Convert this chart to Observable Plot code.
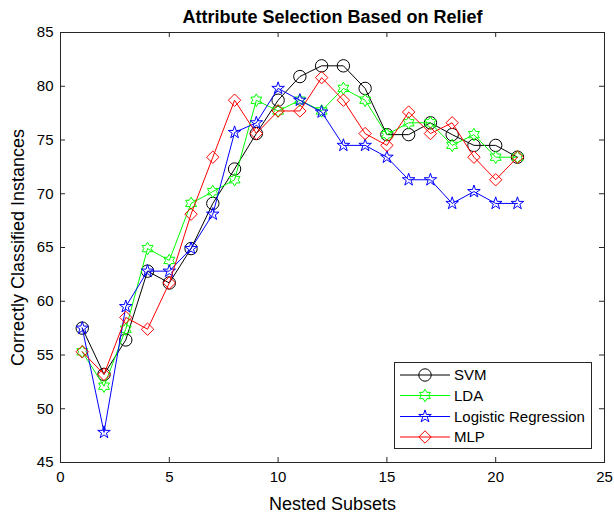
<!DOCTYPE html>
<html>
<head>
<meta charset="utf-8">
<script src="https://cdn.jsdelivr.net/npm/d3@7"></script>
<script src="https://cdn.jsdelivr.net/npm/@observablehq/plot@0.6"></script>
<style>
  html, body { margin: 0; padding: 0; background: #fff; }
  #chart { position: relative; width: 614px; height: 519px; }
</style>
</head>
<body>
<div id="chart"></div>
<script>
// ---- data ----
const subsets = [1, 2, 3, 4, 5, 6, 7, 8, 9, 10, 11, 12, 13, 14, 15, 16, 17, 18, 19, 20, 21];
const svm = [57.5, 53.2, 56.4, 62.8, 61.7, 64.9, 69.1, 72.3, 75.6, 78.7, 80.9, 81.9, 81.9, 79.8, 75.5, 75.5, 76.6, 75.5, 74.5, 74.5, 73.4];
const lda = [55.3, 52.1, 57.4, 64.9, 63.8, 69.1, 70.2, 71.3, 78.7, 77.7, 78.7, 77.7, 79.8, 78.7, 75.5, 76.6, 76.6, 74.5, 75.5, 73.4, 73.4];
const logisticRegression = [57.5, 47.8, 59.5, 62.8, 62.8, 64.9, 68.1, 75.7, 76.6, 79.8, 78.7, 77.6, 74.5, 74.5, 73.4, 71.3, 71.3, 69.1, 70.2, 69.1, 69.1];
const mlp = [55.3, 53.2, 58.5, 57.4, 61.7, 68.1, 73.4, 78.7, 75.6, 77.7, 77.7, 80.8, 78.7, 75.6, 74.5, 77.6, 75.6, 76.6, 73.4, 71.3, 73.4];
const seriesNames = ["SVM", "LDA", "Logistic Regression", "MLP"];
const xTicks = [0, 5, 10, 15, 20, 25];
const yTicks = [45, 50, 55, 60, 65, 70, 75, 80, 85];
const titleText = "Attribute Selection Based on Relief";
const xLabel = "Nested Subsets";
const yLabel = "Correctly Classified Instances";

// ---- symbols ----
function shape(fn) {
  return { draw(ctx, size) { const R = Math.sqrt(size / Math.PI); fn(ctx, R); } };
}
function starPoly(c, R, n, ratio) {
  for (let i = 0; i < 2 * n; i++) {
    const a = -Math.PI / 2 + i * Math.PI / n;
    const r = i % 2 ? R * ratio : R;
    const x = r * Math.cos(a), y = r * Math.sin(a);
    if (i) c.lineTo(x, y); else c.moveTo(x, y);
  }
  c.closePath();
}
const circleSym = shape((c, R) => { c.moveTo(R, 0); c.arc(0, 0, R, 0, 2 * Math.PI); c.closePath(); });
const hexagramSym = shape((c, R) => starPoly(c, R, 6, 1 / Math.sqrt(3)));
const pentagramSym = shape((c, R) => starPoly(c, R, 5, 0.382));
const diamondSym = shape((c, R) => { c.moveTo(0, -R); c.lineTo(R, 0); c.lineTo(0, R); c.lineTo(-R, 0); c.closePath(); });

const series = [
  { name: seriesNames[0], values: svm, color: "#000000", symbol: circleSym, r: 6.2 },
  { name: seriesNames[1], values: lda, color: "#00ff00", symbol: hexagramSym, r: 6.3 },
  { name: seriesNames[2], values: logisticRegression, color: "#0000ff", symbol: pentagramSym, r: 6.6 },
  { name: seriesNames[3], values: mlp, color: "#ff0000", symbol: diamondSym, r: 6.2 }
];

// ---- layout ----
const W = 614, H = 519;
const mL = 60, mR = 10, mT = 32, mB = 57;
const innerW = W - mL - mR, innerH = H - mT - mB;
const FONT = "'Liberation Sans', Arial, Helvetica, sans-serif";
const AXIS = "#262626";

const seriesMarks = series.flatMap(s => [
  Plot.line(subsets, { x: d => d, y: (d, i) => s.values[i], stroke: s.color, strokeWidth: 1 }),
  Plot.dot(subsets, { x: d => d, y: (d, i) => s.values[i], symbol: s.symbol, r: s.r, stroke: s.color, fill: "none", strokeWidth: 1 })
]);

const svg = Plot.plot({
  width: W, height: H,
  marginLeft: mL, marginRight: mR, marginTop: mT, marginBottom: mB,
  style: { fontFamily: FONT, fontSize: "15px", color: AXIS, background: "#fff" },
  x: { domain: [0, 25] },
  y: { domain: [45, 85] },
  marks: [
    Plot.axisX(xTicks, { tickSize: 0, tickPadding: 9, label: null, fontSize: 15, fill: "#000" }),
    Plot.axisY(yTicks, { tickSize: 0, tickPadding: 7, label: null, fontSize: 15, fill: "#000" }),
    Plot.tickX(xTicks, { x: d => d, insetTop: innerH - 5, stroke: AXIS }),
    Plot.tickX(xTicks, { x: d => d, insetBottom: innerH - 5, stroke: AXIS }),
    Plot.tickY(yTicks, { y: d => d, insetRight: innerW - 5, stroke: AXIS }),
    Plot.tickY(yTicks, { y: d => d, insetLeft: innerW - 5, stroke: AXIS }),
    ...seriesMarks,
    Plot.frame({ stroke: AXIS, strokeWidth: 1 }),
    Plot.text([titleText], { frameAnchor: "top", dy: -15, textAnchor: "middle", lineAnchor: "middle", fontWeight: "bold", fontSize: 18, fill: "#000" }),
    Plot.text([xLabel], { frameAnchor: "bottom", dy: 42, textAnchor: "middle", lineAnchor: "middle", fontSize: 18, fill: "#000" }),
    Plot.text([yLabel], { frameAnchor: "left", dx: -42, rotate: -90, textAnchor: "middle", lineAnchor: "middle", fontSize: 18, fill: "#000" })
  ]
});

// ---- legend (inside the plot, lower right) ----
const lg = d3.select(svg).append("g").attr("font-family", FONT).attr("font-size", 15).attr("text-anchor", "start");
const box = { x: 394.5, y: 362.5, w: 197, h: 86 };
lg.append("rect").attr("x", box.x).attr("y", box.y).attr("width", box.w).attr("height", box.h)
  .attr("fill", "#fff").attr("stroke", AXIS).attr("stroke-width", 1);
const rowY = [375, 395.5, 416.5, 437];
series.forEach((s, i) => {
  const y = rowY[i];
  lg.append("line").attr("x1", 400).attr("x2", 450).attr("y1", y).attr("y2", y)
    .attr("stroke", s.color).attr("stroke-width", 1);
  lg.append("path").attr("transform", `translate(425,${y})`)
    .attr("d", d3.symbol(s.symbol, Math.PI * s.r * s.r)())
    .attr("fill", "none").attr("stroke", s.color).attr("stroke-width", 1);
  lg.append("text").attr("x", 454).attr("y", y).attr("dy", "0.35em").attr("fill", "#000")
    .attr("text-anchor", "start").text(s.name);
});

document.getElementById("chart").appendChild(svg);
</script>
</body>
</html>
